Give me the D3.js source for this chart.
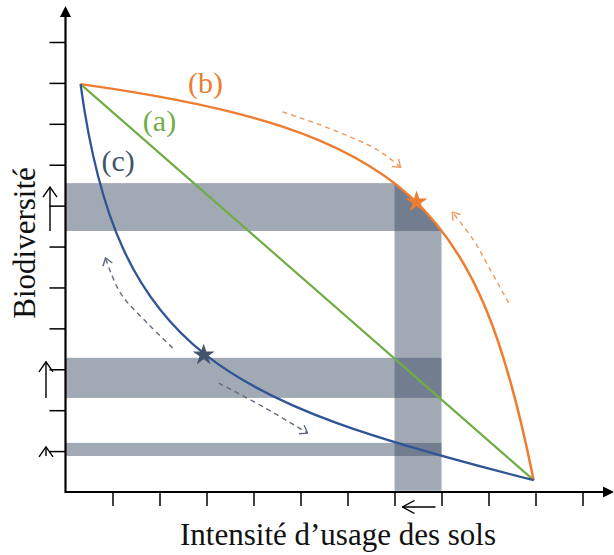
<!DOCTYPE html>
<html><head><meta charset="utf-8">
<script src="https://cdn.jsdelivr.net/npm/d3@7"></script>
<style>body{margin:0;background:#fff}svg{display:block}</style>
</head><body><svg id="c" width="614" height="555"></svg>
<script>
// ---- data (chart units) ----
const xTickValues = [1,2,3,4,5,6,7,8,9,10,11];
const yTickValues = [1,2,3,4,5,6,7,8,9,10,11];
// curve (a): straight line between its end points
const curveA = [[0.32,9.97],[9.96,0.29]];
// curves (b) and (c): cubic Bézier — start, control 1, control 2, end
const curveB = [[0.32,9.97],[7.33,8.85],[8.78,7.02],[9.96,0.29]];
const curveC = [[0.32,9.97],[1.10,3.35],[3.39,2.20],[9.96,0.29]];
const bandX = [7, 8];
const bandsY = [[6.38,7.55],[2.30,3.28],[0.88,1.20]];
const starB = [7.47,7.09];
const starC = [2.94,3.35];
const dashB1 = [[4.62,9.29],[5.70,8.85],[6.64,8.36],[7.13,7.94]];
const dashB2 = [[9.43,4.62],[9.04,5.43],[8.68,6.16],[8.23,6.84]];
const dashC1 = [[2.28,3.52],[1.74,4.13],[1.17,4.86],[0.85,5.72]];
const dashC2 = [[3.26,2.66],[4.21,2.08],[5.15,1.44]];
const curveLabels = [
  {text:"(a)", x:2.0, y:8.83, color:"#70ad47"},
  {text:"(b)", x:2.98, y:9.76, color:"#ed7d31"},
  {text:"(c)", x:1.12, y:7.85, color:"#44546a"}
];
const xTitle = "Intensité d’usage des sols";
const yTitle = "Biodiversité";

// ---- setup ----
const svg = d3.select("#c");
const x = d3.scaleLinear().domain([0,11]).range([65.5,582.5]);
const y = d3.scaleLinear().domain([0,11]).range([492,42]);
const ORANGE="#ed7d31", GREEN="#70ad47", BLUE="#2f5597", SLATE="#44546a";
const serif = "'Liberation Serif','Times New Roman',serif";

const defs = svg.append("defs");
function chevron(id, color, len, half, sw){
  defs.append("marker").attr("id",id).attr("markerUnits","userSpaceOnUse")
    .attr("viewBox",`-1 -1 ${len+2} ${2*half+2}`)
    .attr("markerWidth",len+2).attr("markerHeight",2*half+2)
    .attr("refX",len).attr("refY",half).attr("orient","auto")
    .append("path").attr("d",`M0,0L${len},${half}L0,${2*half}`)
    .attr("fill","none").attr("stroke",color).attr("stroke-width",sw);
}
chevron("mO", "#f19a5e", 7, 5, 1.4);
chevron("mS", "#5f6b7e", 7, 5, 1.4);
chevron("mK", "#000", 10, 7, 1.4);
chevron("mK2", "#000", 12, 6.5, 1.4);

const line = d3.line().x(d=>x(d[0])).y(d=>y(d[1])).curve(d3.curveCatmullRom.alpha(0.5));
function bezier(pts){
  const p = d3.path();
  const s = pts.map(d=>[x(d[0]), y(d[1])]);
  p.moveTo(s[0][0], s[0][1]);
  p.bezierCurveTo(s[1][0], s[1][1], s[2][0], s[2][1], s[3][0], s[3][1]);
  return p.toString();
}

// clip region: under curve (b)
const bPath = bezier(curveB);
defs.append("clipPath").attr("id","clipB").append("path")
  .attr("d", `M${x(0)},${y(0)}L${x(0)},${y(curveB[0][1])}` + bPath.replace(/^M/,"L") + `L${x(curveB[3][0])},${y(0)}Z`);

// ---- bands ----
const gb = svg.append("g").attr("clip-path","url(#clipB)");
gb.selectAll("rect.h").data(bandsY).join("rect").attr("class","h")
  .attr("x", x(0)).attr("width", x(bandX[1]) - x(0))
  .attr("y", d=>y(d[1])).attr("height", d=>y(d[0]) - y(d[1]))
  .attr("fill", SLATE).attr("fill-opacity", 0.5);
gb.append("rect")
  .attr("x", x(bandX[0])).attr("width", x(bandX[1]) - x(bandX[0]))
  .attr("y", y(11)).attr("height", y(0.03) - y(11))
  .attr("fill", SLATE).attr("fill-opacity", 0.5);

// ---- axes ----
const gx = svg.append("g").attr("transform",`translate(0,${y(0)})`)
  .call(d3.axisBottom(x).tickValues(xTickValues).tickSize(14).tickFormat(""));
gx.select(".domain").remove();
gx.selectAll(".tick line").attr("stroke","#000").attr("stroke-width",1.5);
const gy = svg.append("g").attr("transform",`translate(${x(0)},0)`)
  .call(d3.axisLeft(y).tickValues(yTickValues).tickSize(16).tickFormat(""));
gy.select(".domain").remove();
gy.selectAll(".tick line").attr("stroke","#000").attr("stroke-width",1.5);

svg.append("line").attr("x1",x(0)).attr("x2",606).attr("y1",y(0)).attr("y2",y(0))
  .attr("stroke","#000").attr("stroke-width",2.2);
svg.append("line").attr("x1",x(0)).attr("x2",x(0)).attr("y1",y(0)+1).attr("y2",15)
  .attr("stroke","#000").attr("stroke-width",2.2);
svg.append("path").attr("d",`M614,${y(0)}L603,${y(0)-5.5}L603,${y(0)+5.5}Z`).attr("fill","#000");
svg.append("path").attr("d",`M${x(0)},6L${x(0)-5.5},17L${x(0)+5.5},17Z`).attr("fill","#000");

// ---- curves ----
svg.append("path").attr("d", d3.line().x(d=>x(d[0])).y(d=>y(d[1]))(curveA)).attr("fill","none").attr("stroke",GREEN).attr("stroke-width",2.2);
svg.append("path").attr("d", bPath).attr("fill","none").attr("stroke",ORANGE).attr("stroke-width",2.5);
svg.append("path").attr("d", bezier(curveC)).attr("fill","none").attr("stroke",BLUE).attr("stroke-width",2.3);

// ---- dashed arrows ----
[[dashB1,"#f19a5e","mO"],[dashB2,"#f19a5e","mO"],[dashC1,"#5f6b7e","mS"],[dashC2,"#5f6b7e","mS"]].forEach(([pts,col,m])=>{
  svg.append("path").attr("d", line(pts)).attr("fill","none").attr("stroke",col)
    .attr("stroke-width",1.4).attr("stroke-dasharray","5,4").attr("marker-end",`url(#${m})`);
});

// ---- stars ----
const star = d3.symbol().type(d3.symbolStar).size(150);
svg.append("path").attr("d",star()).attr("transform",`translate(${x(starB[0])},${y(starB[1])})`).attr("fill",ORANGE);
svg.append("path").attr("d",star()).attr("transform",`translate(${x(starC[0])},${y(starC[1])})`).attr("fill",SLATE);

// ---- band arrows ----
const arrowX = [50, 46, 46];
bandsY.forEach((b,i)=>{
  svg.append("line").attr("x1",arrowX[i]).attr("x2",arrowX[i])
    .attr("y1",y(b[0])).attr("y2",y(b[1])+4)
    .attr("stroke","#000").attr("stroke-width",1.4).attr("marker-end","url(#mK)");
});
svg.append("line").attr("x1",x(bandX[1])-6).attr("x2",x(bandX[0])+8)
  .attr("y1",507).attr("y2",507).attr("stroke","#000").attr("stroke-width",1.4).attr("marker-end","url(#mK2)");

// ---- labels ----
svg.selectAll("text.cl").data(curveLabels).join("text").attr("class","cl")
  .attr("x",d=>x(d.x)).attr("y",d=>y(d.y)).attr("text-anchor","middle")
  .attr("font-family",serif).attr("font-size",30).attr("fill",d=>d.color).text(d=>d.text);
svg.append("text").attr("x",338).attr("y",545).attr("text-anchor","middle")
  .attr("font-family",serif).attr("font-size",31).attr("fill","#111").text(xTitle);
svg.append("text").attr("transform","translate(35,243) rotate(-90)").attr("text-anchor","middle")
  .attr("font-family",serif).attr("font-size",31).attr("fill","#111").text(yTitle);
</script></body></html>
